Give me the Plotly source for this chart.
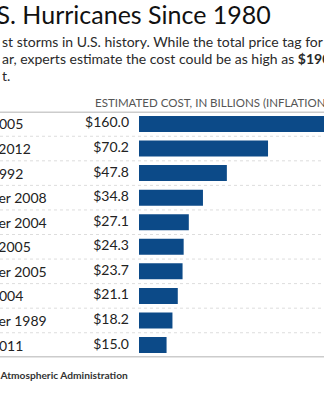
import plotly.graph_objects as go

# Data
dates = ["August 2005", "October 2012", "August 1992", "September 2008", "September 2004",
         "October 2005", "September 2005", "August 2004", "September 1989", "August 2011"]
costs = [160.0, 70.2, 47.8, 34.8, 27.1, 24.3, 23.7, 21.1, 18.2, 15.0]
value_labels = ["$160.0", "$70.2", "$47.8", "$34.8", "$27.1", "$24.3", "$23.7", "$21.1", "$18.2", "$15.0"]

title = "Costliest U.S. Hurricanes Since 1980"
sub_lines = ["st storms in U.S. history. While the total price tag for",
             "ar, experts estimate the cost could be as high as <b>$190 billion</b>",
             "t."]
header = "ESTIMATED COST, IN BILLIONS (INFLATION-ADJUSTED)"
source = "Source: National Oceanic and Atmospheric Administration"

W, H = 324, 400
FONT = "Lato"
BAR = "#0c4a88"
TXT = "#222222"

X0_PX = 139.0      # pixel where bars start
PX_PER = 1.838     # pixels per billion
xr = [-X0_PX / PX_PER, (W - X0_PX) / PX_PER]

fig = go.Figure()
fig.add_trace(go.Bar(x=costs, y=dates, orientation="h", width=0.65,
                     marker=dict(color=BAR, line=dict(width=0)), hoverinfo="skip"))
label_x = (129 - X0_PX) / PX_PER
fig.add_trace(go.Scatter(x=[label_x] * len(dates), y=dates, mode="text", text=value_labels,
                         textposition="middle left", cliponaxis=False,
                         textfont=dict(family=FONT, size=14, color=TXT), hoverinfo="skip"))

def py(px):
    return 1 - px / H

ann = []
for d in dates:
    ann.append(dict(x=-58 / W, xref="paper", y=d, yref="y", text=d, showarrow=False,
                    xanchor="left", yanchor="middle", font=dict(family=FONT, size=14, color=TXT)))
ann.append(dict(x=273 / W, xref="paper", y=py(14), yref="paper", text=title, showarrow=False,
                xanchor="right", yanchor="middle", font=dict(family=FONT, size=25, color="#111111")))
for i, (line, ypx) in enumerate(zip(sub_lines, [42, 59, 75])):
    ann.append(dict(x=0, xref="paper", y=py(ypx), yref="paper", text=line, showarrow=False,
                    xanchor="left", yanchor="middle", font=dict(family=FONT, size=14, color="#2a2a2a")))
ann.append(dict(x=93 / W, xref="paper", y=py(102), yref="paper", text=header, showarrow=False,
                xanchor="left", yanchor="middle", font=dict(family=FONT, size=11.5, color="#555555")))
ann.append(dict(x=130 / W, xref="paper", y=py(375), yref="paper", text="<b>" + source + "</b>",
                showarrow=False, xanchor="right", yanchor="middle",
                font=dict(family=FONT, size=10.2, color="#333333")))

shapes = []
for i in range(len(dates) - 1):
    shapes.append(dict(type="line", xref="paper", x0=0, x1=1, yref="y", y0=i + 0.5, y1=i + 0.5,
                       line=dict(color="#dddddd", width=1, dash="dot"), layer="below"))
for yv in [-0.5, len(dates) - 0.5]:
    shapes.append(dict(type="line", xref="paper", x0=0, x1=1, yref="y", y0=yv, y1=yv,
                       line=dict(color="#999999", width=1.5)))

fig.update_layout(
    width=W, height=H, margin=dict(l=0, r=0, t=0, b=0),
    paper_bgcolor="white", plot_bgcolor="white", showlegend=False,
    xaxis=dict(range=xr, visible=False, fixedrange=True),
    yaxis=dict(type="category", autorange=False, range=[len(dates) - 0.5, -0.5],
               domain=[py(357.3), py(111.7)], visible=False, fixedrange=True),
    annotations=ann, shapes=shapes, bargap=0.35,
)
fig.write_html("out.html", config=dict(displayModeBar=False))
